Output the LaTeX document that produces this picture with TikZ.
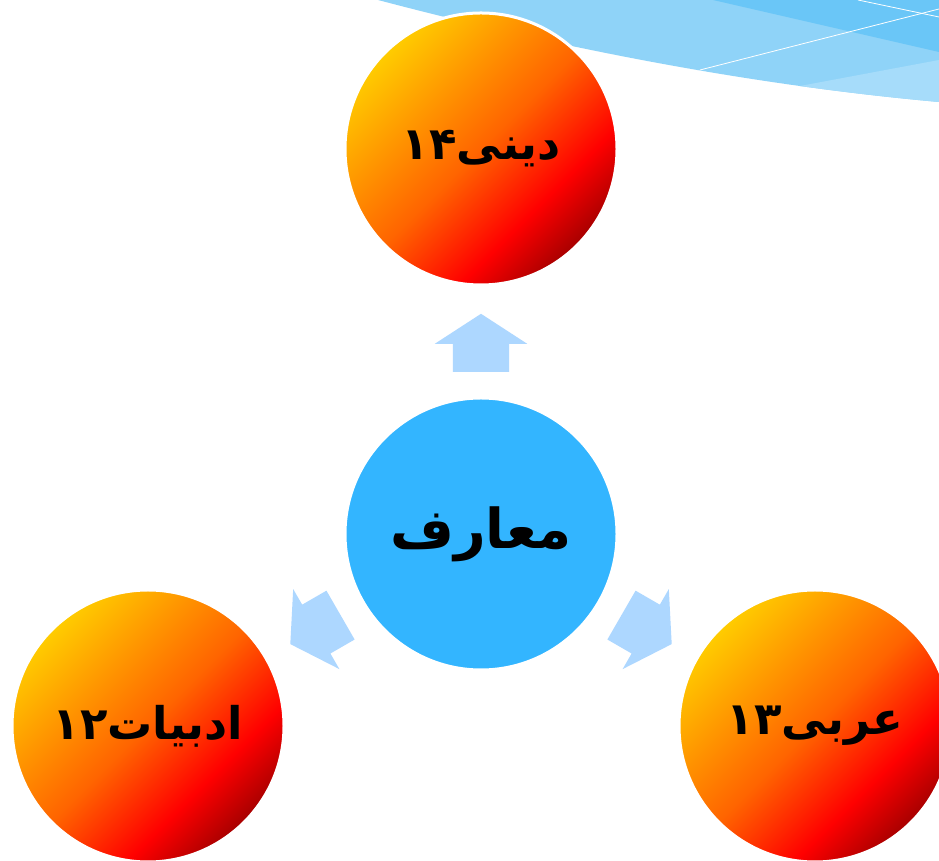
\documentclass[tikz,border=0pt]{standalone}
\usepackage{fontspec}
\newfontfamily\farsifont[Script=Arabic]{DejaVu Sans}
\TeXXeTstate=1
\usetikzlibrary{calc,shapes.arrows}

\definecolor{ballYellow}{HTML}{FFCC00}
\definecolor{ballOrange}{HTML}{FF9500}
\definecolor{ballMid}{HTML}{FF6400}
\definecolor{ballRed}{HTML}{FF0000}
\definecolor{ballDark}{HTML}{A80000}
\definecolor{hubBlue}{HTML}{33B5FF}
\definecolor{arrowBlue}{HTML}{ADD7FF}
\definecolor{waveBase}{HTML}{8FD3F8}
\definecolor{waveDark}{HTML}{6AC6F7}
\definecolor{waveLight}{HTML}{A6DCFA}

\pgfdeclareverticalshading{ballshade}{100bp}{%
    color(0bp)=(ballDark); color(25bp)=(ballDark); color(35bp)=(ballRed);
    color(50bp)=(ballMid); color(62bp)=(ballOrange); color(75bp)=(ballYellow);
    color(100bp)=(ballYellow)}

\tikzset{%
    ball/.style={circle, minimum size=272pt, inner sep=0pt, draw=white, line width=3pt,
        shading=ballshade, shading angle=45,
        font=\farsifont\bfseries\fontsize{45}{50}\selectfont},
    hub/.style={circle, minimum size=272pt, inner sep=0pt, draw=white, line width=3pt,
        fill=hubBlue, font=\farsifont\bfseries\fontsize{55}{60}\selectfont},
    blockarrow/.style={single arrow, draw=none, fill=arrowBlue, anchor=tail,
        inner xsep=0pt, inner ysep=28pt,
        minimum height=58pt, minimum width=92pt,
        single arrow head extend=18pt, single arrow tip angle=114}
}

\begin{document}
\begin{tikzpicture}[x=1pt, y=1pt]
    \clip (0,0) rectangle (939,861);
    \fill[white] (0,0) rectangle (939,861);

    % top right wave
    \begin{scope}
        \clip (378,861) -- (939,861) -- (939,759)
            .. controls (750,776) and (560,813) .. (378,861) -- cycle;
        \fill[waveBase] (370,700) rectangle (939,861);
        \fill[waveDark] (713,861) -- (939,861) -- (939,809) -- cycle;
        \fill[waveLight] (800,775) -- (939,801) -- (939,700) -- (790,700) -- cycle;
        \draw[white, line width=0.8pt] (700,791) -- (939,852);
        \draw[white, line width=0.8pt] (858,861) -- (939,844);
    \end{scope}

    \node[hub] (maaref) at (481,327) {\beginR معارف\endR};
    \node[ball] (dini) at (481,712) {\beginR دینی\beginL ۱۴\endL\endR};
    \node[ball] (adabiyat) at (148,135) {\beginR ادبیات\beginL ۱۲\endL\endR};
    \node[ball] (arabi) at (815,135) {\beginR عربی\beginL ۱۳\endL\endR};

    \node[blockarrow, rotate=90] (toDini) at ($(maaref.center)+(90:162)$) {};
    \node[blockarrow, rotate=210] (toAdabiyat) at ($(maaref.center)+(210:162)$) {};
    \node[blockarrow, rotate=330] (toArabi) at ($(maaref.center)+(330:162)$) {};
\end{tikzpicture}
\end{document}
